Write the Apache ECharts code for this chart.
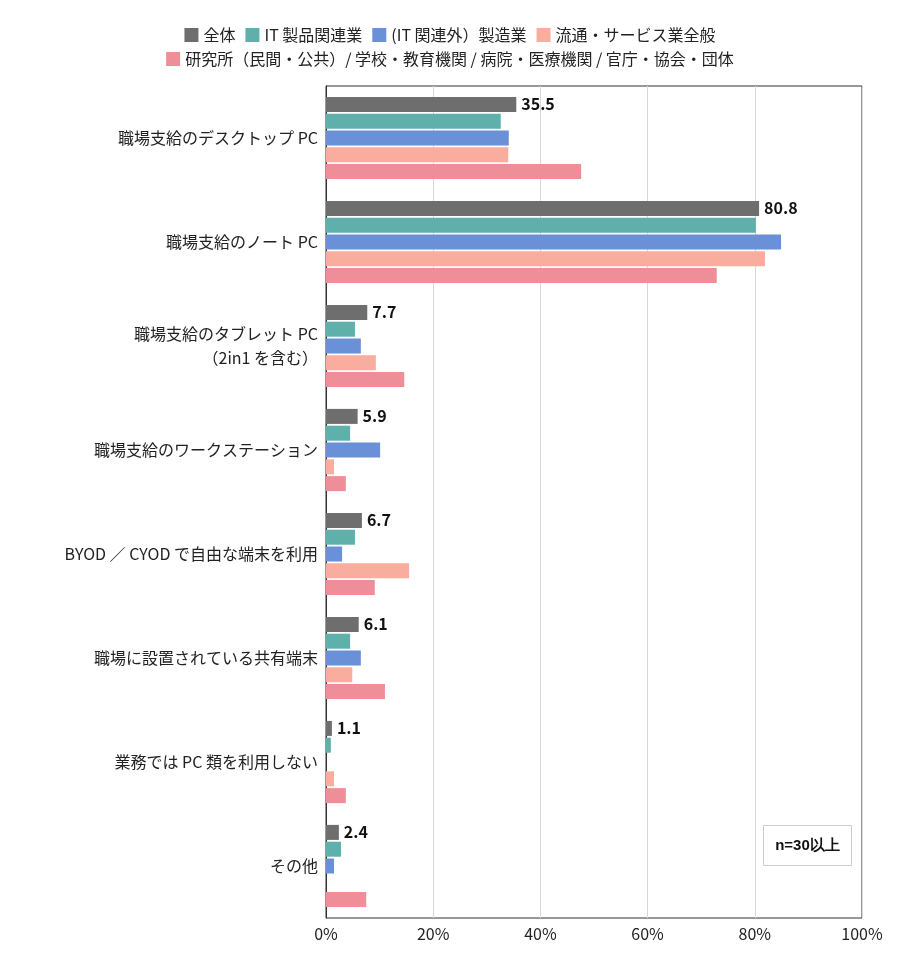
<!DOCTYPE html>
<html><head><meta charset="utf-8">
<script src="https://cdn.jsdelivr.net/npm/echarts@6/dist/echarts.min.js"></script>
<style>html,body{margin:0;background:#fff}#main{width:900px;height:954px}</style>
</head><body><div id="main"></div>
<script>
var myChart = echarts.init(document.getElementById('main'));

const categories = ['職場支給のデスクトップ PC', '職場支給のノート PC', '職場支給のタブレット PC\n（2in1 を含む）', '職場支給のワークステーション', 'BYOD ／ CYOD で自由な端末を利用', '職場に設置されている共有端末', '業務では PC 類を利用しない', 'その他'];
const seriesNames = ['全体', 'IT 製品関連業', '(IT 関連外）製造業', '流通・サービス業全般', '研究所（民間・公共）/ 学校・教育機関 / 病院・医療機関 / 官庁・協会・団体'];
const colors = ['#6e6e6e', '#5fb0aa', '#6a90d8', '#f9ad9f', '#ee8e98'];
const allValues = [35.5, 80.8, 7.7, 5.9, 6.7, 6.1, 1.1, 2.4];
const itValues = [32.6, 80.2, 5.4, 4.5, 5.4, 4.5, 0.9, 2.8];
const mfgValues = [34.1, 84.9, 6.5, 10.1, 3.0, 6.5, 0, 1.5];
const retailValues = [34.0, 81.9, 9.3, 1.5, 15.5, 4.9, 1.5, 0];
const publicValues = [47.6, 72.9, 14.6, 3.7, 9.1, 11.0, 3.7, 7.5];
const dataSets = [allValues, itValues, mfgValues, retailValues, publicValues];

const series = dataSets.map((d, i) => ({
    name: seriesNames[i],
    type: 'bar',
    data: d,
    barWidth: 15,
    barGap: '12%',
    itemStyle: { color: colors[i] },
    label: i === 0 ? {
        show: true, position: 'right', fontWeight: 'bold', fontSize: 16, color: '#111',
        fontFamily: 'Noto Sans CJK JP'
    } : { show: false }
}));

const legendText = { fontSize: 16, color: '#222', fontFamily: 'Noto Sans CJK JP' };
option = {
    textStyle: { fontFamily: 'Noto Sans CJK JP' },
    legend: [
        { data: seriesNames.slice(0, 4), top: 22, left: 'center', itemWidth: 14, itemHeight: 14, itemGap: 10, textStyle: legendText, icon: 'rect' },
        { data: seriesNames.slice(4), top: 46, left: 'center', itemWidth: 14, itemHeight: 14, textStyle: legendText, icon: 'rect' }
    ],
    grid: { left: 326, right: 38, top: 86, bottom: 36, show: true, borderColor: '#333', borderWidth: 1 },
    xAxis: {
        type: 'value', min: 0, max: 100, interval: 20,
        axisLabel: { formatter: '{value}%', fontSize: 16, color: '#222' },
        splitLine: { lineStyle: { color: '#d8d8d8' } },
        axisLine: { show: false }, axisTick: { show: false }
    },
    yAxis: {
        type: 'category', data: categories, inverse: true,
        axisLabel: { fontSize: 16, color: '#222', lineHeight: 24 },
        axisTick: { show: false }, axisLine: { lineStyle: { color: '#333' } }
    },
    graphic: [{
        type: 'group', right: 48, bottom: 88,
        children: [
            { type: 'rect', shape: { width: 88, height: 40 }, style: { fill: '#fff', stroke: '#ccc' } },
            { type: 'text', x: 44, y: 20, style: { text: 'n=30以上', fontSize: 15, fontWeight: 'bold', fill: '#111', align: 'center', verticalAlign: 'middle' } }
        ]
    }],
    series: series
};
myChart.setOption(option);
</script></body></html>
